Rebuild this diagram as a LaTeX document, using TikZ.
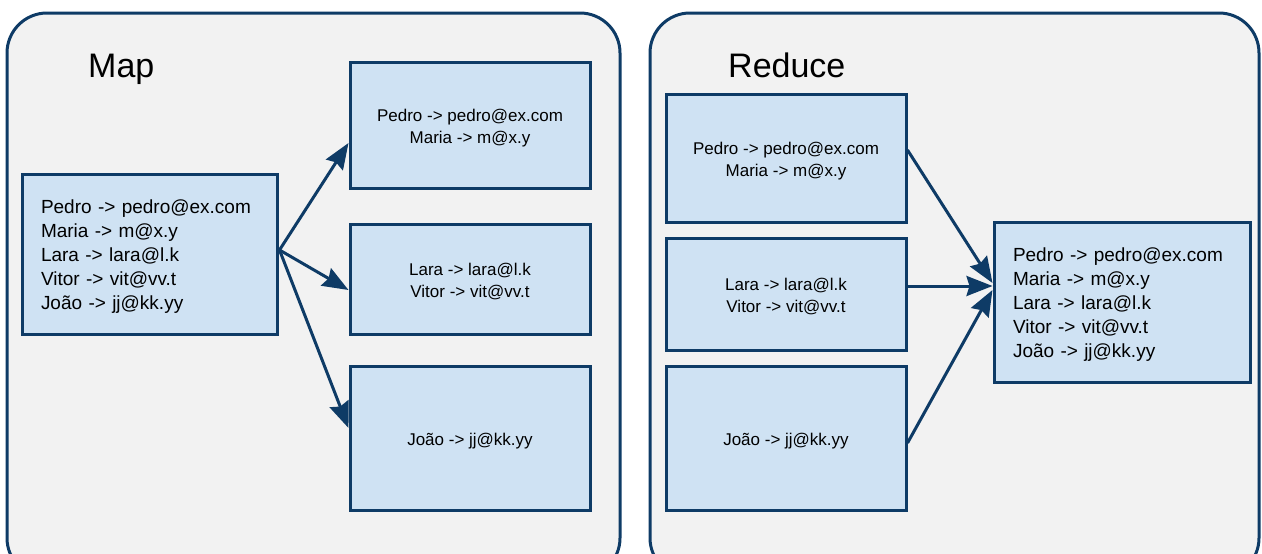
\documentclass[tikz,border=0pt]{standalone}
\usepackage{fontspec}
\setmainfont{Liberation Sans}
\usetikzlibrary{arrows.meta,calc}
\definecolor{navy}{HTML}{0E3B66}
\definecolor{boxfill}{HTML}{CFE2F3}
\definecolor{panelfill}{HTML}{F2F2F2}

% text block lowered a little inside its box, keeping its nominal size
\newcommand{\lowtext}[2]{\raisebox{-3pt}[\height][\depth]{\parbox{#1}{#2}}}

\tikzset{
  panel/.style={draw=navy,fill=panelfill,line width=3pt,rounded corners=40pt},
  stage/.style={inner sep=0pt,font=\fontsize{34}{40}\selectfont},
  part/.style={draw=navy,fill=boxfill,line width=3pt,minimum width=240pt,
    inner sep=0pt,align=center,font=\fontsize{17}{22}\selectfont},
  whole/.style={draw=navy,fill=boxfill,line width=3pt,minimum height=160pt,
    inner xsep=19pt,inner ysep=0pt,align=left,font=\fontsize{19}{24}\selectfont},
  headtip/.tip={Stealth[length=26pt,width=20pt,inset=3pt]},
  flow/.style={draw=navy,line width=3pt,-headtip}
}

\begin{document}
\begin{tikzpicture}[x=1pt,y=-1pt]

\useasboundingbox (0,0) rectangle (1262,554);
\clip (0,0) rectangle (1262,554);
\fill[white] (0,0) rectangle (1262,554);

% the two stages
\draw[panel] (7,13) rectangle (620,578);
\draw[panel] (650,13) rectangle (1259,578);
\node[stage,anchor=base west] (maptitle) at (88,77) {Map};
\node[stage,anchor=base west] (redtitle) at (728,77) {Reduce};

% map stage
\node[whole,text width=217pt] (src) at (149.5,254)
  {\lowtext{217pt}{Pedro -> pedro@ex.com\\Maria -> m@x.y\\Lara -> lara@l.k\\Vitor -> vit@vv.t\\João -> jj@kk.yy}};
\node[part,minimum height=126pt] (m1) at (470,125) {\lowtext{236pt}{\centering Pedro -> pedro@ex.com\\Maria -> m@x.y}};
\node[part,minimum height=110pt] (m2) at (470,279) {\lowtext{236pt}{\centering Lara -> lara@l.k\\Vitor -> vit@vv.t}};
\node[part,minimum height=144pt] (m3) at (470,438) {\lowtext{236pt}{\centering João -> jj@kk.yy}};

\coordinate (split) at ($(src.east)+(1,-4)$);
\draw[flow] (split) -- ($(m1.west)+(0,18)$);
\draw[flow] (split) -- ($(m2.west)+(0,11)$);
\draw[flow] (split) -- ($(m3.west)+(0,-10)$);

% reduce stage
\node[part,minimum height=128pt] (r1) at (786,158) {\lowtext{236pt}{\centering Pedro -> pedro@ex.com\\Maria -> m@x.y}};
\node[part,minimum height=112pt] (r2) at (786,294) {\lowtext{236pt}{\centering Lara -> lara@l.k\\Vitor -> vit@vv.t}};
\node[part,minimum height=144pt] (r3) at (786,438) {\lowtext{236pt}{\centering João -> jj@kk.yy}};
\node[whole,text width=218pt] (dst) at (1122,302)
  {\lowtext{218pt}{Pedro -> pedro@ex.com\\Maria -> m@x.y\\Lara -> lara@l.k\\Vitor -> vit@vv.t\\João -> jj@kk.yy}};

\draw[flow] ($(r1.east)+(0,-8)$) -- ($(dst.west)+(0,-19)$);
\draw[flow] ($(r2.east)+(0,-8)$) -- ($(dst.west)+(0,-16)$);
\draw[flow] ($(r3.east)+(0,5)$) -- ($(dst.west)+(0,-12)$);
\end{tikzpicture}
\end{document}
